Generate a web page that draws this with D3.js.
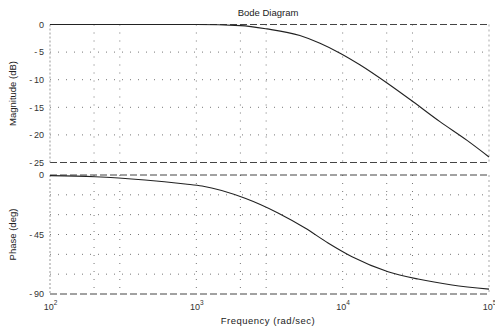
<!DOCTYPE html>
<html>
<head>
<meta charset="utf-8">
<script src="https://cdn.jsdelivr.net/npm/d3@7"></script>
<style>
  html, body { margin: 0; padding: 0; background: #fff; }
  svg { display: block; font-family: "Liberation Sans", Arial, Helvetica, sans-serif; }
</style>
</head>
<body>
<svg id="chart" width="495" height="328"></svg>
<script>
// ---- data ----
const title = "Bode Diagram";
const xLabel = "Frequency  (rad/sec)";
const magLabel = "Magnitude (dB)";
const phaseLabel = "Phase (deg)";

const magFreq = [100, 300, 1000, 2000, 3040, 5100, 7000, 9600, 13100, 20100, 30300, 46200, 70800, 100000];
const magDb   = [0, 0, 0, -0.2, -0.8, -2.0, -3.4, -5.2, -7.3, -10.6, -14.0, -17.6, -21.0, -24.0];

const phaseFreq = [100, 203, 446, 838, 1094, 2153, 3614, 5534, 7943, 11590, 20420, 32730, 55850, 100000];
const phaseDeg  = [-0.5, -1.3, -3.8, -6.8, -8.3, -17.6, -28.7, -40.1, -51.4, -61.8, -73.1, -78.7, -83.2, -86.3];

const xTicks = [1e2, 1e3, 1e4, 1e5];
const xTickExp = ["2", "3", "4", "5"];
const magTicks = [0, -5, -10, -15, -20, -25];
const magGrid = [-5, -10, -15, -20];
const phaseTicks = [0, -45, -90];
const phaseGrid = [-15, -30, -45, -60, -75];
const minorMult = [2, 3];

// ---- layout ----
const svg = d3.select("#chart");
const X0 = 50, X1 = 489;
const x = d3.scaleLog().domain([1e2, 1e5]).range([X0, X1]);
const yMag = d3.scaleLinear().domain([-25, 0]).range([162.5, 24.5]);
const yPh = d3.scaleLinear().domain([-90, 0]).range([294, 175]);

const gridX = [];
[1e2, 1e3, 1e4].forEach(d => minorMult.forEach(m => gridX.push(d * m)));
[1e3, 1e4].forEach(d => gridX.push(d));

function panel(y, yTicks, gridY, dom) {
  const g = svg.append("g");
  // grid
  g.selectAll(".vg").data(gridX).join("line")
    .attr("x1", d => x(d)).attr("x2", d => x(d))
    .attr("y1", y(dom[1])).attr("y2", y(dom[0]))
    .attr("stroke", "#777").attr("stroke-width", 1)
    .attr("stroke-dasharray", "1,7");
  g.selectAll(".hg").data(gridY).join("line")
    .attr("x1", X0).attr("x2", X1)
    .attr("y1", d => y(d)).attr("y2", d => y(d))
    .attr("stroke", "#777").attr("stroke-width", 1)
    .attr("stroke-dasharray", "1,7");
  // frame
  g.append("line").attr("x1", X0).attr("x2", X1).attr("y1", y(dom[1])).attr("y2", y(dom[1]))
    .attr("stroke", "#444").attr("stroke-dasharray", "7,3");
  g.append("line").attr("x1", X0).attr("x2", X1).attr("y1", y(dom[0])).attr("y2", y(dom[0]))
    .attr("stroke", "#444").attr("stroke-dasharray", "7,3");
  g.append("line").attr("x1", X0).attr("x2", X0).attr("y1", y(dom[1])).attr("y2", y(dom[0]))
    .attr("stroke", "#999").attr("stroke-dasharray", "2,2");
  g.append("line").attr("x1", X1).attr("x2", X1).attr("y1", y(dom[1])).attr("y2", y(dom[0]))
    .attr("stroke", "#aaa").attr("stroke-dasharray", "2,3");
  // y axis
  const ax = g.append("g").attr("transform", `translate(${X0},0)`)
    .call(d3.axisLeft(y).tickValues(yTicks).tickSize(0).tickPadding(6)
      .tickFormat(d => String(d).replace("-", "-\u2009")));
  ax.select(".domain").remove();
  ax.selectAll("text").attr("font-size", 9).attr("fill", "#333")
    .attr("font-family", "Liberation Sans, Arial, sans-serif");
  return g;
}

panel(yMag, magTicks, magGrid, [-25, 0]);
panel(yPh, phaseTicks, phaseGrid, [-90, 0]);

// curves
const magLine = d3.line().x(d => x(d[0])).y(d => yMag(d[1])).curve(d3.curveMonotoneX);
svg.append("path").datum(d3.zip(magFreq, magDb)).attr("d", magLine)
  .attr("fill", "none").attr("stroke", "#222").attr("stroke-width", 1.1);

const phLine = d3.line().x(d => x(d[0])).y(d => yPh(d[1])).curve(d3.curveMonotoneX);
svg.append("path").datum(d3.zip(phaseFreq, phaseDeg)).attr("d", phLine)
  .attr("fill", "none").attr("stroke", "#222").attr("stroke-width", 1.1);

// x axis
const xa = svg.append("g").attr("transform", `translate(0,${yPh(-90)})`)
  .call(d3.axisBottom(x).tickValues(xTicks).tickSize(0).tickPadding(10).tickFormat(() => ""));
xa.select(".domain").remove();
xa.selectAll(".tick text").each(function(d, i) {
  const t = d3.select(this).attr("font-size", 9).attr("fill", "#333").attr("text-anchor", "middle");
  t.append("tspan").text("10");
  t.append("tspan").attr("dy", -5).attr("font-size", 6.5).text(xTickExp[i]);
});

// titles
svg.append("text").attr("x", 268).attr("y", 16).attr("text-anchor", "middle")
  .attr("font-size", 9.5).attr("fill", "#222").text(title);
svg.append("text").attr("x", 268).attr("y", 324).attr("text-anchor", "middle")
  .attr("font-size", 9.5).attr("letter-spacing", 0.5).attr("fill", "#222").text(xLabel);
svg.append("text").attr("transform", `translate(16,${(yMag(0) + yMag(-25)) / 2}) rotate(-90)`)
  .attr("text-anchor", "middle").attr("font-size", 9.5).attr("fill", "#222").text(magLabel);
svg.append("text").attr("transform", `translate(16,${(yPh(0) + yPh(-90)) / 2}) rotate(-90)`)
  .attr("text-anchor", "middle").attr("font-size", 9.5).attr("fill", "#222").text(phaseLabel);
</script>
</body>
</html>
